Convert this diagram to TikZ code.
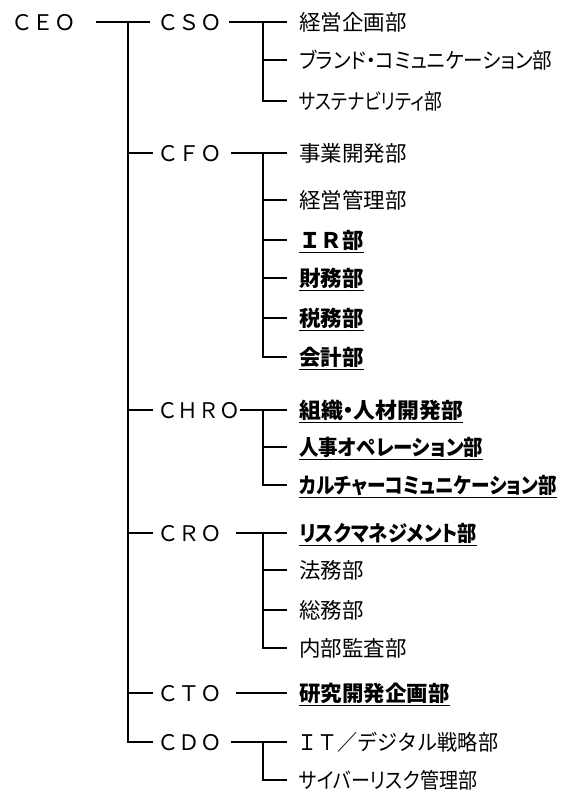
\documentclass[tikz,border=0pt]{standalone}
\usepackage{fontspec}
\usepackage{graphicx}
\newfontfamily\jp{Noto Sans CJK JP}[RawFeature=+palt]
\newfontfamily\jpw{Noto Sans CJK JP}
\newcommand\deptline[1]{\setbox0\hbox{#1}\rlap{\rule[-4.6pt]{\wd0}{1.3pt}}\box0}
\newcommand\fitlabel[2]{\resizebox{#1}{\height}{#2}}

\tikzset{
  post/.style={anchor=west, inner sep=0pt, text height=16.4pt, text depth=0pt,
    font=\jpw\fontsize{21.5}{22}\selectfont},
  dept/.style={anchor=west, inner sep=0pt, text height=16.4pt, text depth=0pt,
    font=\jp\fontsize{21.5}{22}\selectfont},
  keydept/.style={dept, font=\jp\bfseries\fontsize{21.5}{22}\selectfont},
  wire/.style={line width=1.4pt},
}

\begin{document}
\begin{tikzpicture}[x=1pt,y=-1pt]
\useasboundingbox (0,0) rectangle (561,795);
\coordinate (trunk) at (128,0);
\coordinate (fork) at (263,0);

\node[post] (ceo) at (11,22) {ＣＥＯ};
\node[post] (cso) at (157,22) {ＣＳＯ};
\node[post] (cfo) at (157,153) {ＣＦＯ};
\node[post] (chro) at (157,410) {\fitlabel{83pt}{ＣＨＲＯ}};
\node[post] (cro) at (157,533) {ＣＲＯ};
\node[post] (cto) at (157,693) {ＣＴＯ};
\node[post] (cdo) at (157,742) {ＣＤＯ};

\node[dept] (kikaku) at (299,22) {経営企画部};
\node[dept] (brand) at (299,60) {\fitlabel{253pt}{ブランド・コミュニケーション部}};
\node[dept] (sustain) at (299,101) {\fitlabel{143pt}{サステナビリティ部}};
\node[dept] (jigyo) at (299,153) {事業開発部};
\node[dept] (keiei) at (299,200) {経営管理部};
\node[keydept] (ir) at (299,240) {\deptline{{\jpw ＩＲ}部}};
\node[keydept] (zaimu) at (299,278) {\deptline{財務部}};
\node[keydept] (zeimu) at (299,318) {\deptline{税務部}};
\node[keydept] (kaikei) at (299,357) {\deptline{会計部}};
\node[keydept] (soshiki) at (299,410) {\deptline{\fitlabel{164pt}{組織・人材開発部}}};
\node[keydept] (jinji) at (299,447) {\deptline{\fitlabel{184pt}{人事オペレーション部}}};
\node[keydept] (culture) at (299,485) {\deptline{\fitlabel{258pt}{カルチャーコミュニケーション部}}};
\node[keydept] (risk) at (299,533) {\deptline{\fitlabel{178pt}{リスクマネジメント部}}};
\node[dept] (houmu) at (299,570) {法務部};
\node[dept] (soumu) at (299,610) {総務部};
\node[dept] (kansa) at (299,648) {内部監査部};
\node[keydept] (kenkyu) at (299,693) {\deptline{研究開発企画部}};
\node[dept, font=\jpw\fontsize{21.5}{22}\selectfont] (it) at (297,742) {\fitlabel{201pt}{ＩＴ／デジタル戦略部}};
\node[dept] (cyber) at (299,780) {\fitlabel{178pt}{サイバーリスク管理部}};

\draw[wire] ([xshift=20pt]ceo.east) -- ([xshift=-7pt]cso.west);
\draw[wire] (cso.west -| trunk) -- (cdo.west -| trunk) -- ([xshift=-4pt]cdo.west);
\foreach \p in {cfo,chro,cro,cto}
  \draw[wire] (\p.west -| trunk) -- ([xshift=-4pt]\p.west);

\draw[wire] ([xshift=7pt]cso.east) -- ([xshift=-12pt]kikaku.west);
\draw[wire] ([xshift=9pt]cfo.east) -- ([xshift=-12pt]jigyo.west);
\draw[wire] ([xshift=0pt]chro.east) -- ([xshift=-12pt]soshiki.west);
\draw[wire] ([xshift=14pt]cro.east) -- ([xshift=-12pt]risk.west);
\draw[wire] ([xshift=14pt]cto.east) -- ([xshift=-12pt]kenkyu.west);
\draw[wire] ([xshift=9pt]cdo.east) -- ([xshift=-10pt]it.west);

\draw[wire] (kikaku.west -| fork) -- (sustain.west -| fork) -- ([xshift=-12pt]sustain.west);
\draw[wire] (jigyo.west -| fork) -- (kaikei.west -| fork) -- ([xshift=-12pt]kaikei.west);
\draw[wire] (soshiki.west -| fork) -- (culture.west -| fork) -- ([xshift=-12pt]culture.west);
\draw[wire] (risk.west -| fork) -- (kansa.west -| fork) -- ([xshift=-12pt]kansa.west);
\draw[wire] (it.west -| fork) -- (cyber.west -| fork) -- ([xshift=-12pt]cyber.west);
\foreach \d in {brand,keiei,ir,zaimu,zeimu,jinji,houmu,soumu}
  \draw[wire] (\d.west -| fork) -- ([xshift=-12pt]\d.west);
\end{tikzpicture}
\end{document}
